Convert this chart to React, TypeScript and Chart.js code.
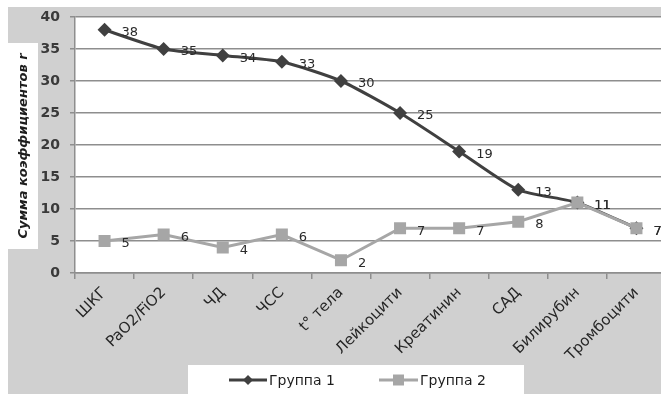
import { useEffect, useRef } from "react";
import { Chart, registerables } from "chart.js";

Chart.register(...registerables);

// Indicators along the x axis
const categories = [
  "ШКГ",
  "PaO2/FiO2",
  "ЧД",
  "ЧСС",
  "t° тела",
  "Лейкоцити",
  "Креатинин",
  "САД",
  "Билирубин",
  "Тромбоцити",
];

// Sum of coefficients per indicator
const group1 = [38, 35, 34, 33, 30, 25, 19, 13, 11, 7];
const group2 = [5, 6, 4, 6, 2, 7, 7, 8, 11, 7];

const seriesNames = ["Группа 1", "Группа 2"];
const yTitle = "Сумма коэффициентов r";

// Value axis ticks
const yMin = 0;
const yMax = 40;
const yStep = 5;

const COLOR_G1 = "#404040";
const COLOR_G2 = "#a6a6a6";
const PAGE_GRAY = "#d0d0d0";
const GRID = "#8e8e8e";
const FONT = "'DejaVu Sans', sans-serif";

const backdrop = {
  id: "backdrop",
  beforeDraw(chart: any) {
    const { ctx, chartArea, width, height } = chart;
    ctx.save();
    ctx.fillStyle = "#ffffff";
    ctx.fillRect(0, 0, width, height);
    ctx.fillStyle = PAGE_GRAY;
    ctx.fillRect(8, 7, width - 8, height - 7);
    ctx.fillStyle = "#ffffff";
    // plot area
    ctx.fillRect(chartArea.left, chartArea.top, width - chartArea.left, chartArea.bottom - chartArea.top);
    // axis title panel
    ctx.fillRect(8, 43, 30, 206);
    // legend panel
    ctx.fillRect(188, 365, 336, height - 365);

    // axis title
    ctx.translate(24, 146);
    ctx.rotate(-Math.PI / 2);
    ctx.fillStyle = "#1e1e1e";
    ctx.font = `italic bold 13px ${FONT}`;
    ctx.textAlign = "center";
    ctx.textBaseline = "middle";
    ctx.fillText(yTitle, 0, 0);
    ctx.restore();
  },
};

const valueLabels = {
  id: "valueLabels",
  afterDatasetsDraw(chart: any) {
    const { ctx } = chart;
    ctx.save();
    ctx.font = `13px ${FONT}`;
    ctx.fillStyle = "#2a2a2a";
    ctx.textAlign = "left";
    ctx.textBaseline = "middle";
    chart.data.datasets.forEach((ds: any, i: number) => {
      const meta = chart.getDatasetMeta(i);
      meta.data.forEach((pt: any, j: number) => {
        ctx.fillText(String(ds.data[j]), pt.x + 17, pt.y + 3);
      });
    });
    ctx.restore();
  },
};

const legendBox = {
  id: "legendBox",
  afterDraw(chart: any) {
    const { ctx } = chart;
    const y = 380;
    const items = [
      { x0: 229, x1: 267, ds: chart.data.datasets[0] },
      { x0: 379, x1: 418, ds: chart.data.datasets[1] },
    ];
    ctx.save();
    items.forEach(({ x0, x1, ds }) => {
      ctx.strokeStyle = ds.borderColor;
      ctx.lineWidth = 3;
      ctx.beginPath();
      ctx.moveTo(x0, y);
      ctx.lineTo(x1, y);
      ctx.stroke();
      const cx = (x0 + x1) / 2;
      ctx.fillStyle = ds.pointBackgroundColor;
      ctx.beginPath();
      if (ds.pointStyle === "rectRot") {
        const r = 5;
        ctx.moveTo(cx, y - r);
        ctx.lineTo(cx + r, y);
        ctx.lineTo(cx, y + r);
        ctx.lineTo(cx - r, y);
        ctx.closePath();
      } else {
        ctx.rect(cx - 5.5, y - 5.5, 11, 11);
      }
      ctx.fill();
      ctx.fillStyle = "#1e1e1e";
      ctx.font = `14px ${FONT}`;
      ctx.textAlign = "left";
      ctx.textBaseline = "middle";
      ctx.fillText(ds.label, x1 + 2, y + 1);
    });
    ctx.restore();
  },
};

export default function App() {
  const ref = useRef<HTMLCanvasElement | null>(null);

  useEffect(() => {
    if (!ref.current) return;
    const chart = new Chart(ref.current, {
      type: "line",
      data: {
        labels: categories,
        datasets: [
          {
            label: seriesNames[0],
            data: group1,
            order: 1,
            borderColor: COLOR_G1,
            backgroundColor: COLOR_G1,
            pointBackgroundColor: COLOR_G1,
            pointBorderColor: COLOR_G1,
            pointStyle: "rectRot",
            pointRadius: 7,
            pointBorderWidth: 0,
            borderWidth: 3,
            tension: 0.2,
          },
          {
            label: seriesNames[1],
            data: group2,
            order: 0,
            borderColor: COLOR_G2,
            backgroundColor: COLOR_G2,
            pointBackgroundColor: COLOR_G2,
            pointBorderColor: COLOR_G2,
            pointStyle: "rect",
            pointRadius: 8.5,
            pointBorderWidth: 0,
            borderWidth: 3,
            tension: 0,
          },
        ],
      },
      options: {
        responsive: false,
        animation: false,
        devicePixelRatio: 1,
        layout: { autoPadding: false, padding: { top: 17, left: 0, right: 0, bottom: 0 } },
        plugins: {
          legend: { display: false },
          tooltip: { enabled: false },
        },
        scales: {
          x: {
            type: "category",
            offset: true,
            grid: {
              offset: true,
              drawOnChartArea: false,
              drawTicks: true,
              tickLength: 6,
              color: GRID,
              lineWidth: 1.5,
            },
            border: { color: GRID, width: 1.5 },
            ticks: {
              autoSkip: false,
              maxRotation: 45,
              minRotation: 45,
              padding: 5,
              color: "#262626",
              font: { family: FONT, size: 15 },
            },
            afterFit(scale: any) {
              scale.height = 121;
              scale.paddingLeft = 0;
              scale.paddingRight = 0;
            },
          },
          y: {
            min: yMin,
            max: yMax,
            grid: {
              color: GRID,
              lineWidth: 1.5,
              tickLength: 5,
              drawTicks: true,
            },
            border: { color: GRID, width: 1.5 },
            ticks: {
              stepSize: yStep,
              padding: 10,
              color: "#3a3a3a",
              font: { family: FONT, size: 14, weight: "bold" },
            },
            afterFit(scale: any) {
              scale.width = 75;
              scale.paddingTop = 0;
              scale.paddingBottom = 0;
            },
          },
        },
      },
      plugins: [backdrop, valueLabels, legendBox],
    });
    return () => chart.destroy();
  }, []);

  return (
    <div
      style={{
        position: "fixed",
        left: 0,
        top: 0,
        width: 661,
        height: 394,
        overflow: "hidden",
      }}
    >
      <canvas ref={ref} width={666} height={394} style={{ width: 666, height: 394, display: "block" }} />
    </div>
  );
}
